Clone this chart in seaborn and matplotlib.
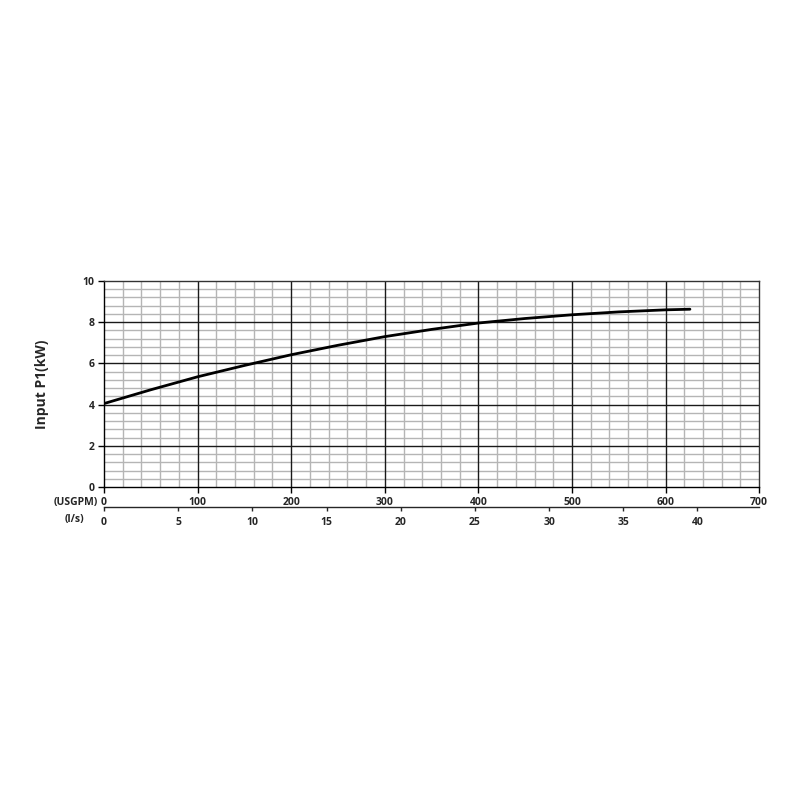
import numpy as np
import matplotlib
matplotlib.use("Agg")
import matplotlib.pyplot as plt
import seaborn as sns
import pandas as pd
from matplotlib.ticker import MultipleLocator

# Кривая мощности: расход (USGPM) -> потребляемая мощность P1 (кВт)
flow_usgpm = [0, 50, 100, 150, 200, 250, 300, 350, 400, 450, 500, 550, 600, 626]
power_kw = [4.05, 4.72, 5.35, 5.9, 6.42, 6.88, 7.3, 7.65, 7.96, 8.18, 8.36, 8.5, 8.6, 8.63]

usgpm_ticks = [0, 100, 200, 300, 400, 500, 600, 700]
power_ticks = [0, 2, 4, 6, 8, 10]
ls_ticks = [0, 5, 10, 15, 20, 25, 30, 35, 40]
USGPM_PER_LS = 15.85

sns.set_style("white")
plt.rcParams['font.family'] = ['Open Sans', 'DejaVu Sans']

df = pd.DataFrame({"flow": flow_usgpm, "power": power_kw})

fig = plt.figure(figsize=(8, 8), dpi=100)
ax = fig.add_axes([0.13, 0.39125, 0.819, 0.2575])

ax.set_xlim(0, 700)
ax.set_ylim(0, 10)
ax.set_xticks(usgpm_ticks)
ax.set_yticks(power_ticks)
ax.xaxis.set_minor_locator(MultipleLocator(20))
ax.yaxis.set_minor_locator(MultipleLocator(0.4))

# мелкая сетка серая (снизу), крупная чёрная поверх неё
ax.grid(which="minor", color="#b5b5b5", linewidth=1.0)
ax.grid(which="major", visible=False)
ax.set_axisbelow(True)
for xv in usgpm_ticks[1:-1]:
    ax.axvline(xv, color="#1a1a1a", linewidth=1.0, zorder=1)
for yv in power_ticks[1:-1]:
    ax.axhline(yv, color="#1a1a1a", linewidth=1.0, zorder=1)

sns.lineplot(data=df, x="flow", y="power", ax=ax, color="black", linewidth=2.0, zorder=3)

ax.set_xlabel("")
ax.set_ylabel("Input P1(kW)", fontsize=10, fontweight="bold", labelpad=24)

for s in ax.spines.values():
    s.set_color("#333333")
    s.set_linewidth(1.0)
    s.set_zorder(2)
ax.spines["left"].set_color("black")
ax.spines["bottom"].set_color("black")

ax.tick_params(axis="both", which="major", length=4, width=1, color="black",
               labelsize=7.5, direction="out", bottom=True, left=True, pad=3)
ax.tick_params(axis="both", which="minor", length=0)
for lab in ax.get_xticklabels() + ax.get_yticklabels():
    lab.set_fontweight("bold")

# вторая ось: л/с
sec = ax.secondary_xaxis(-0.097, functions=(lambda x: x / USGPM_PER_LS,
                                            lambda x: x * USGPM_PER_LS))
sec.set_xticks(ls_ticks)
sec.tick_params(axis="x", length=3, width=1, labelsize=7.5, direction="out", pad=4)
sec.spines["bottom"].set_linewidth(1.0)
for lab in sec.get_xticklabels():
    lab.set_fontweight("bold")

ax.text(-0.01, -0.075, "(USGPM)", transform=ax.transAxes, ha="right", va="center",
        fontsize=7.5, fontweight="bold")
ax.text(-0.03, -0.16, "(l/s)", transform=ax.transAxes, ha="right", va="center",
        fontsize=7.5, fontweight="bold")

fig.savefig("out.png", dpi=100, facecolor="white")
